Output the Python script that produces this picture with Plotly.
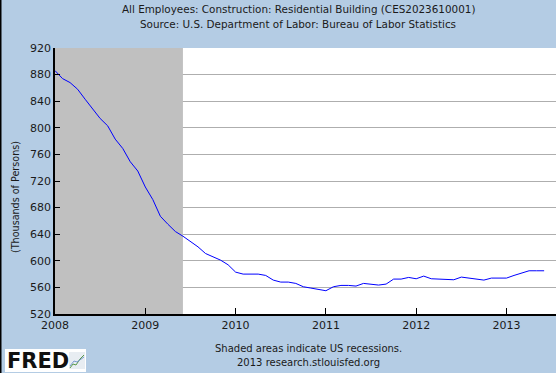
import plotly.graph_objects as go

# Monthly data, Jan 2008 .. Jun 2013 (thousands of persons)
start_year = 2008
values = [
    886, 874, 868, 858, 843, 829, 814, 803, 783, 769, 749, 735,   # 2008
    711, 692, 667, 655, 644, 637, 629, 621, 611, 606, 601, 594,   # 2009
    583, 580, 580, 580, 578, 571, 568, 568, 566, 561, 559, 557,   # 2010
    555, 561, 563, 563, 562, 566, 565, 563.5, 565, 572.5, 572.5, 575,  # 2011
    573, 577, 573, 572.5, 572.5, 571.5, 575.5, 574, 572.5, 571, 574, 574,  # 2012
    574, 578, 581.5, 585, 585, 585,                               # 2013
]
x_years = [start_year + i / 12 for i in range(len(values))]

tick_years = [2008, 2009, 2010, 2011, 2012, 2013]
tick_labels = ["2008", "2009", "2010", "2011", "2012", "2013"]
y_ticks = [520, 560, 600, 640, 680, 720, 760, 800, 840, 880, 920]

recession_start = 2007 + 11 / 12
recession_end = 2009 + 5 / 12

title_1 = "All Employees: Construction: Residential Building (CES2023610001)"
title_2 = "Source: U.S. Department of Labor: Bureau of Labor Statistics"
y_title = "(Thousands of Persons)"
foot_1 = "Shaded areas indicate US recessions."
foot_2 = "2013 research.stlouisfed.org"

W, H = 556, 373
L, R, T, B = 55, 0, 48, 59
PW, PH = W - L - R, H - T - B


def px(xpix):
    return (xpix - L) / PW


def py(ypix):
    return (H - B - ypix) / PH


BG = "#B4CCE4"
FONT = "DejaVu Sans"
TXT = "#1a1a1a"

fig = go.Figure()
fig.add_trace(go.Scatter(x=x_years, y=values, mode="lines",
                         line=dict(color="#0000FF", width=1), hoverinfo="skip",
                         showlegend=False))

shapes = [
    dict(type="rect", xref="x", yref="y", x0=recession_start, x1=recession_end,
         y0=520, y1=920, fillcolor="#C0C0C0", line=dict(width=0), layer="between"),
    # outer frame on the left
    dict(type="line", xref="paper", yref="paper", x0=px(0.75), x1=px(0.75),
         y0=py(0), y1=py(H), line=dict(color="black", width=1.5)),
    # FRED logo box
    dict(type="rect", xref="paper", yref="paper", x0=px(5), x1=px(86),
         y0=py(349), y1=py(372), fillcolor="white", line=dict(width=0)),
    dict(type="rect", xref="paper", yref="paper", x0=px(69), x1=px(85),
         y0=py(352), y1=py(369), fillcolor="#E8EDF2", line=dict(width=0)),
    dict(type="path", xref="paper", yref="paper",
         path=f"M {px(70)},{py(368)} L {px(73)},{py(364)} L {px(76)},{py(365)} L {px(80)},{py(359)} L {px(84)},{py(355)}",
         line=dict(color="#5a9a4a", width=1)),
    dict(type="path", xref="paper", yref="paper",
         path=f"M {px(70)},{py(366)} L {px(74)},{py(361)} L {px(77)},{py(362)} L {px(84)},{py(357)}",
         line=dict(color="#7a9ad0", width=1)),
]


def ann(text, xp, yp, size=10.4, **kw):
    d = dict(text=text, x=px(xp), y=py(yp), xref="paper", yref="paper",
             xanchor="center", yanchor="middle", showarrow=False,
             font=dict(family=FONT, size=size, color=TXT))
    d.update(kw)
    return d


annotations = [
    ann(title_1, 298, 9),
    ann(title_2, 298, 24),
    ann(y_title, 15, 197, size=9.6, textangle=-90),
    ann(foot_1, 308, 348, size=10),
    ann(foot_2, 308, 362, size=10),
    dict(text="<b>FRED</b>", x=px(5), y=py(361), xref="paper", yref="paper",
         xanchor="left", yanchor="middle", showarrow=False,
         font=dict(family="DejaVu Sans", size=21, color="#111")),
]

fig.update_layout(
    width=W, height=H,
    margin=dict(l=L, r=R, t=T, b=B, pad=0),
    paper_bgcolor=BG, plot_bgcolor="white",
    shapes=shapes, annotations=annotations,
    font=dict(family=FONT, size=11, color=TXT),
    xaxis=dict(range=[2008, 2008 + PW / 90.3], tickvals=tick_years, ticktext=tick_labels,
               showgrid=False, zeroline=False, showline=True, linecolor="black",
               linewidth=1.5, ticks="inside", ticklen=6, tickcolor="black",
               tickfont=dict(family=FONT, size=11, color=TXT)),
    yaxis=dict(range=[520, 920], tickvals=y_ticks, showgrid=True, gridcolor="#AEAEAE",
               gridwidth=1, zeroline=False, showline=True, linecolor="black",
               linewidth=1.5, ticks="inside", ticklen=5, tickcolor="black",
               tickfont=dict(family=FONT, size=11, color=TXT)),
)

fig.write_html("out.html", config={"displayModeBar": False},
               post_script="document.body.style.margin='0px';document.body.style.padding='0px';")
